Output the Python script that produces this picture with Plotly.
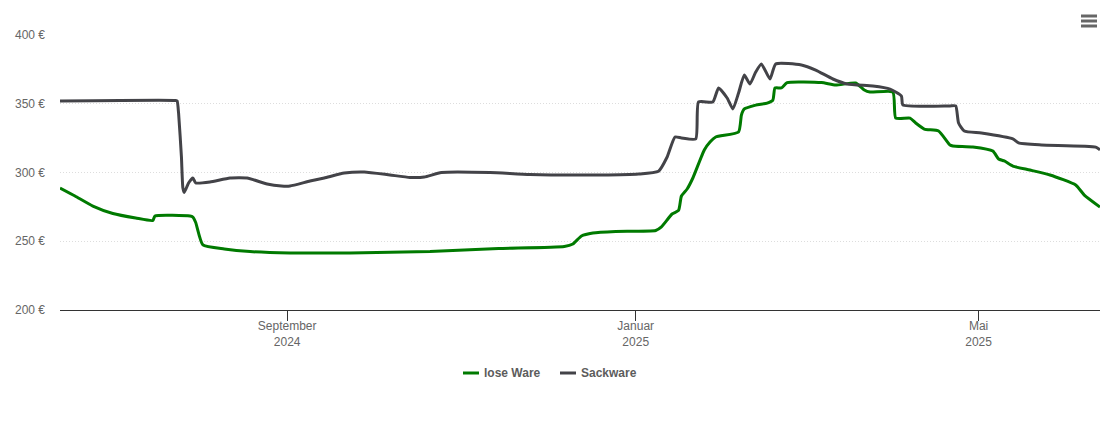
import plotly.graph_objects as go

# lose Ware
lose_dates = ['2024-06-13 12:00', '2024-06-18 18:00', '2024-06-25', '2024-07-02', '2024-07-10', '2024-07-16',
              '2024-07-16 18:00', '2024-07-29', '2024-07-30', '2024-07-31', '2024-08-02 12:00', '2024-08-10', '2024-08-19',
              '2024-09-02', '2024-09-23', '2024-10-21', '2024-11-14', '2024-12-07', '2024-12-10', '2024-12-13',
              '2024-12-17', '2024-12-25', '2025-01-08', '2025-01-10', '2025-01-13 17:00', '2025-01-16',
              '2025-01-17', '2025-01-19', '2025-01-21', '2025-01-25', '2025-01-27', '2025-01-29', '2025-02-06',
              '2025-02-07', '2025-02-08', '2025-02-12', '2025-02-16', '2025-02-18', '2025-02-18 18:00',
              '2025-02-21', '2025-02-23', '2025-03-07', '2025-03-12', '2025-03-19', '2025-03-22', '2025-03-24',
              '2025-04-01', '2025-04-02', '2025-04-07', '2025-04-09', '2025-04-12', '2025-04-17', '2025-04-21',
              '2025-04-22', '2025-04-29', '2025-05-06', '2025-05-08', '2025-05-10', '2025-05-13', '2025-05-19',
              '2025-05-26', '2025-06-04', '2025-06-07', '2025-06-12 12:00']
lose_preis = [288.7, 282.9, 275.6, 270.2, 266.9, 265.1,
              268.4, 268.4, 267.6, 263.6, 247.3, 244.4, 242.5,
              241.5, 241.5, 242.5, 244.7, 246.2, 248, 253.8,
              256, 257.1, 257.8, 260.4, 269.8, 272.4,
              282.9, 288, 296, 316.4, 322.2, 325.8, 329.5,
              341.8, 346.2, 349, 350.5, 352.7, 361.5,
              361.5, 365.4, 365.4, 363.6, 365.1, 360, 358.5,
              358.5, 339.6, 339.6, 336, 331.6, 330.2, 320,
              319.3, 318.5, 315.6, 309.8, 308.4, 304.7, 301.8,
              298.2, 290.9, 283.6, 274.9]

# Sackware
sack_dates = ['2024-06-13 12:00', '2024-07-24', '2024-07-24 12:00', '2024-07-25', '2024-07-26', '2024-07-26 12:00',
              '2024-07-27', '2024-07-28 12:00', '2024-07-30', '2024-07-31', '2024-08-05', '2024-08-12',
              '2024-08-18', '2024-08-25', '2024-08-30', '2024-09-02', '2024-09-09', '2024-09-14', '2024-09-21',
              '2024-09-28', '2024-10-07', '2024-10-14', '2024-10-19', '2024-10-25', '2024-11-11', '2024-11-25',
              '2024-12-20', '2025-01-02', '2025-01-09', '2025-01-12', '2025-01-14 18:00', '2025-01-17',
              '2025-01-22', '2025-01-23', '2025-01-28', '2025-01-30', '2025-02-02', '2025-02-04', '2025-02-06',
              '2025-02-08', '2025-02-10', '2025-02-12', '2025-02-14', '2025-02-17', '2025-02-19', '2025-02-28',
              '2025-03-05', '2025-03-11', '2025-03-16', '2025-03-25', '2025-03-31', '2025-04-04',
              '2025-04-04 12:00', '2025-04-21', '2025-04-23', '2025-04-24', '2025-04-26', '2025-05-02',
              '2025-05-13', '2025-05-15', '2025-05-23', '2025-06-11', '2025-06-12 12:00']
sack_preis = [352, 352.4, 352, 343.3, 311.3, 288.9,
              285.5, 292.4, 296, 292.4, 293.1, 296,
              296, 291.6, 290.2, 290.2, 293.8, 296, 299.6,
              300.4, 298.2, 296.4, 296.7, 300, 300, 298.5,
              298.2, 298.9, 301, 311.3, 325.8, 325.1,
              324.4, 351.3, 351.3, 361.5, 354.2, 346.2, 357.8,
              370.9, 364.4, 373.1, 378.9, 368, 378.9, 378.2,
              374.5, 368, 364.4, 362.9, 360.7, 355.6,
              349.1, 348.4, 348.4, 336, 330.2, 328.7,
              324.4, 321.5, 320, 318.5, 316.4]

x_ticks = ['2024-09-01', '2025-01-01', '2025-05-01']
x_labels = ['September<br>2024', 'Januar<br>2025', 'Mai<br>2025']
y_ticks = [200, 250, 300, 350, 400]
y_labels = ['200 €', '250 €', '300 €', '350 €', '400 €']

GREEN = '#007a00'
GRAY = '#434348'

fig = go.Figure()
fig.add_trace(go.Scatter(x=lose_dates, y=lose_preis, mode='lines', name='lose Ware',
                         line=dict(color=GREEN, width=3, shape='spline', smoothing=0.5)))
fig.add_trace(go.Scatter(x=sack_dates, y=sack_preis, mode='lines', name='Sackware',
                         line=dict(color=GRAY, width=3, shape='spline', smoothing=0.5)))

# die Seite hat 8px Rand, darum 1102x415
fig.update_layout(
    width=1102,
    height=415,
    margin=dict(l=52, r=10, t=27, b=113),
    plot_bgcolor='white',
    paper_bgcolor='white',
    font=dict(family='Liberation Sans, Arial, sans-serif', size=12, color='#666666'),
    showlegend=False,
)
fig.update_xaxes(
    range=['2024-06-13 12:00', '2025-06-12 12:00'],
    tickmode='array', tickvals=x_ticks, ticktext=x_labels,
    ticks='outside', ticklen=10, tickcolor='#333333', tickwidth=1,
    ticklabelstandoff=-5, automargin=False,
    showline=True, linecolor='#333333', linewidth=1, showgrid=False, zeroline=False,
)
fig.update_yaxes(
    range=[200, 400],
    tickmode='array', tickvals=y_ticks, ticktext=y_labels,
    showgrid=True, gridcolor='#dddddd', griddash='1px,2px', gridwidth=1,
    showline=False, zeroline=False, ticks='', ticklabelstandoff=14, automargin=False,
)

# Legende von Hand, Plotly zeichnet die Linien sonst zu lang
legend_items = [('lose Ware', GREEN, 463), ('Sackware', GRAY, 560)]
for name, color, left in legend_items:
    fig.add_shape(type='line', xref='paper', yref='paper',
                  x0=(left - 60) / 1040, x1=(left + 16 - 60) / 1040,
                  y0=(310 - 373) / 275, y1=(310 - 373) / 275,
                  line=dict(color=color, width=3))
    fig.add_annotation(text=f'<b>{name}</b>', xref='paper', yref='paper',
                       x=(left + 20 - 60) / 1040, y=(310 - 373) / 275,
                       xanchor='left', yanchor='middle', showarrow=False,
                       borderpad=0, font=dict(size=12, color='#5c5c5c'))

# Menü-Symbol oben rechts
for top in [16, 21, 26]:
    fig.add_shape(type='line', xref='paper', yref='paper',
                  x0=(1081 - 60) / 1040, x1=(1097 - 60) / 1040,
                  y0=(310 - top) / 275, y1=(310 - top) / 275,
                  line=dict(color='#666666', width=3))

fig.write_html("out.html")
